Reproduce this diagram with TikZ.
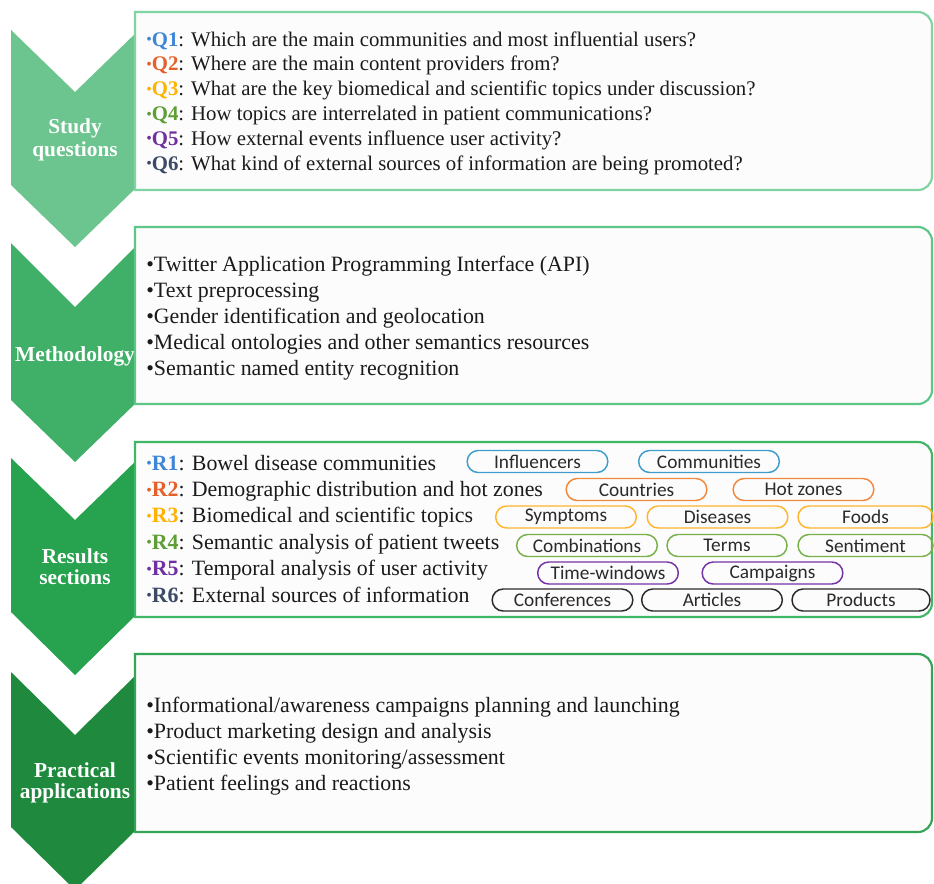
\documentclass[tikz,border=0pt]{standalone}
\usepackage{fontspec}
\setmainfont{Liberation Serif}
\newfontfamily\pillfont{Carlito}
\usetikzlibrary{shapes.misc}
\definecolor{chA}{HTML}{6CC58F}
\definecolor{chB}{HTML}{40B068}
\definecolor{chC}{HTML}{27A24E}
\definecolor{chD}{HTML}{1F8A3D}
\definecolor{bxA}{HTML}{80D4A2}
\definecolor{bxB}{HTML}{5EC686}
\definecolor{bxC}{HTML}{3FB865}
\definecolor{bxD}{HTML}{34A457}
\definecolor{boxfill}{HTML}{FCFCFC}
\definecolor{cA}{HTML}{3F86D6}
\definecolor{cB}{HTML}{E5602A}
\definecolor{cC}{HTML}{FFB300}
\definecolor{cD}{HTML}{5E9E35}
\definecolor{cE}{HTML}{7030A0}
\definecolor{cF}{HTML}{3C4A66}
\definecolor{pA}{HTML}{3E9DCB}
\definecolor{pB}{HTML}{F0883E}
\definecolor{pC}{HTML}{FFB52E}
\definecolor{pD}{HTML}{78B04A}
\definecolor{pE}{HTML}{7433A6}
\definecolor{pF}{HTML}{2A2A2A}
\definecolor{ink}{HTML}{1A1A1A}
\newcommand\myrbox[3]{%
  \filldraw[fill=boxfill, draw=#3, line width=1.6pt]
    (135,#1) -- (918,#1) .. controls (925.7,#1) and (932,{#1+6.3}) .. (932,{#1+14})
    -- (932,{#2-14}) .. controls (932,{#2-6.3}) and (925.7,#2) .. (918,#2)
    -- (135,#2) -- cycle;}
\newcommand\mychev[5]{%
  \fill[#5] (11,#1) -- (75,#2) -- (139,#1) -- (139,#3) -- (75,#4) -- (11,#3) -- cycle;}
\newcommand\qb[2]{{\color{#1}\raisebox{1pt}{\fontsize{12}{12}\selectfont•}\textbf{#2}}}
\begin{document}
\begin{tikzpicture}[x=0.75pt,y=-0.75pt,
  chevlabel/.style={anchor=base, inner sep=0pt, text=white, font=\fontsize{16}{18}\selectfont\bfseries},
  txtline/.style={anchor=base west, inner sep=0pt, text=ink, font=\fontsize{15.6}{18}\selectfont},
  bigline/.style={txtline, font=\fontsize{16.4}{18}\selectfont},
  pill/.style={rounded rectangle, draw=#1, line width=1.1pt, minimum height=16.5pt, minimum width=105.5pt, inner sep=0pt, text=pF, font=\pillfont\fontsize{14.5}{16}\selectfont}]
\useasboundingbox (0,0) rectangle (934,883);
\clip (0,0) rectangle (934,883);
\fill[white] (0,0) rectangle (934,883);

% chevrons
\mychev{30}{92}{185}{247}{chA}
\mychev{243}{307}{400}{462}{chB}
\mychev{458}{520}{612}{675}{chC}
\mychev{672}{735}{827}{890}{chD}

\node[chevlabel] (study1) at (75,133) {Study};
\node[chevlabel] (study2) at (75,156) {questions};
\node[chevlabel] (meth) at (75,361) {Methodology};
\node[chevlabel] (res1) at (75,563) {Results};
\node[chevlabel] (res2) at (75,584) {sections};
\node[chevlabel] (prac1) at (75,777) {Practical};
\node[chevlabel] (prac2) at (75,798) {applications};

% boxes
\myrbox{12}{190}{bxA}
\myrbox{227}{404}{bxB}
\myrbox{442}{617}{bxC}
\myrbox{654}{832}{bxD}

% study questions
\node[txtline] (q1) at (146,46) {\qb{cA}{Q1}: Which are the main communities and most influential users?};
\node[txtline] (q2) at (146,70.8) {\qb{cB}{Q2}: Where are the main content providers from?};
\node[txtline] (q3) at (146,95.6) {\qb{cC}{Q3}: What are the key biomedical and scientific topics under discussion?};
\node[txtline] (q4) at (146,120.4) {\qb{cD}{Q4}: How topics are interrelated in patient communications?};
\node[txtline] (q5) at (146,145.2) {\qb{cE}{Q5}: How external events influence user activity?};
\node[txtline] (q6) at (146,170) {\qb{cF}{Q6}: What kind of external sources of information are being promoted?};

% methodology
\node[bigline] (m1) at (146,271) {•Twitter Application Programming Interface (API)};
\node[bigline] (m2) at (146,297) {•Text preprocessing};
\node[bigline] (m3) at (146,323) {•Gender identification and geolocation};
\node[bigline] (m4) at (146,349) {•Medical ontologies and other semantics resources};
\node[bigline] (m5) at (146,375) {•Semantic named entity recognition};

% results
\node[bigline] (r1) at (146,470) {\qb{cA}{R1}: Bowel disease communities};
\node[bigline] (r2) at (146,496.4) {\qb{cB}{R2}: Demographic distribution and hot zones};
\node[bigline] (r3) at (146,522.8) {\qb{cC}{R3}: Biomedical and scientific topics};
\node[bigline] (r4) at (146,549.2) {\qb{cD}{R4}: Semantic analysis of patient tweets};
\node[bigline] (r5) at (146,575.6) {\qb{cE}{R5}: Temporal analysis of user activity};
\node[bigline] (r6) at (146,602) {\qb{cF}{R6}: External sources of information};

% pills
\node[pill=pA] (infl) at (537.5,461.5) {Influencers};
\node[pill=pA] (comm) at (709,461.5) {Communities};
\node[pill=pB] (ctry) at (636.5,489.5) {Countries};
\node[pill=pB] (hotz) at (803.5,489.5) {Hot zones};
\node[pill=pC] (symp) at (566,517) {Symptoms};
\node[pill=pC] (dise) at (717.5,517) {Diseases};
\node[pill=pC, minimum width=101.25pt] (food) at (865.5,517) {Foods};
\node[pill=pD] (comb) at (587,545.5) {Combinations};
\node[pill=pD, minimum width=90pt] (term) at (727,545.5) {Terms};
\node[pill=pD, minimum width=101.25pt] (sent) at (865.5,545.5) {Sentiment};
\node[pill=pE] (timew) at (608,573) {Time-windows};
\node[pill=pE] (camp) at (772.5,573) {Campaigns};
\node[pill=pF] (conf) at (562.5,600) {Conferences};
\node[pill=pF] (arti) at (712,600) {Articles};
\node[pill=pF, minimum width=103.5pt] (prod) at (861,600) {Products};

% practical applications
\node[bigline] (a1) at (146,712) {•Informational/awareness campaigns planning and launching};
\node[bigline] (a2) at (146,738) {•Product marketing design and analysis};
\node[bigline] (a3) at (146,764) {•Scientific events monitoring/assessment};
\node[bigline] (a4) at (146,790) {•Patient feelings and reactions};
\end{tikzpicture}
\end{document}
